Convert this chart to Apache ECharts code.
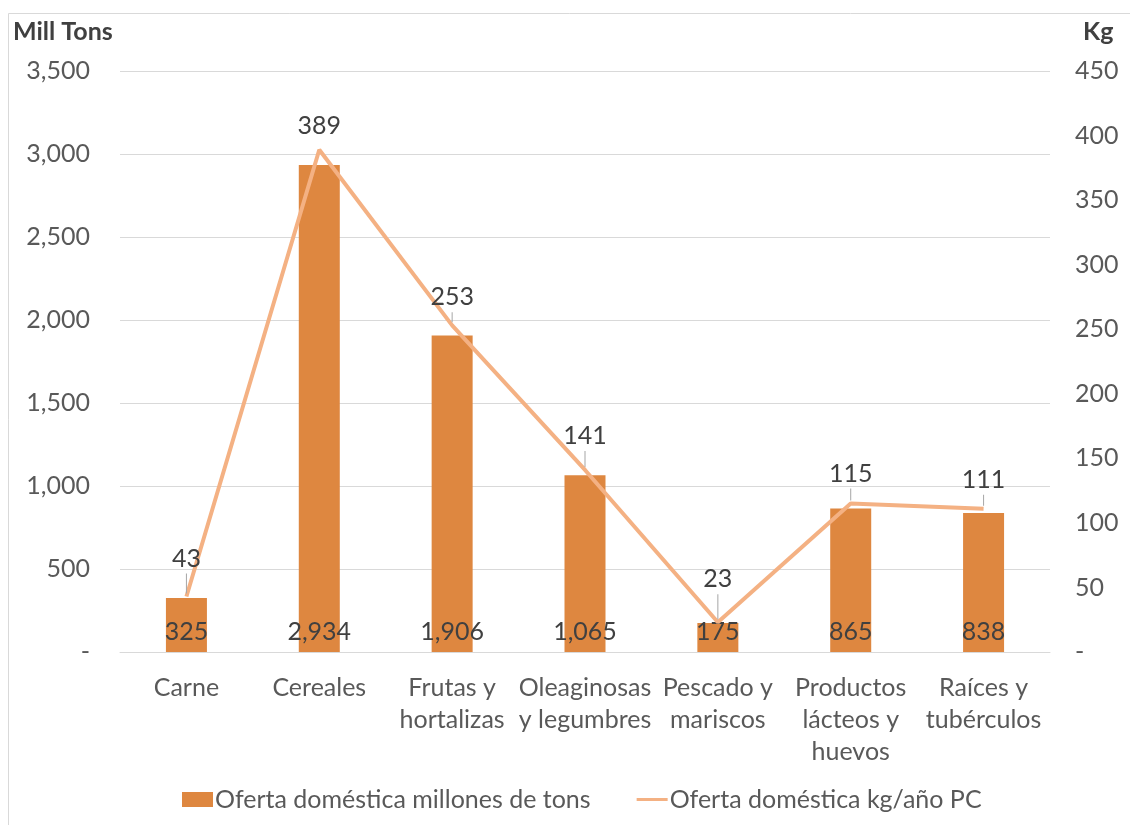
<!DOCTYPE html>
<html>
<head>
<meta charset="utf-8">
<script src="https://cdn.jsdelivr.net/npm/echarts@6/dist/echarts.min.js"></script>
<style>
  html, body { margin: 0; padding: 0; background: #fff; }
  #chart { width: 1130px; height: 825px; }
</style>
</head>
<body>
<div id="chart"></div>
<script>
// Categories and values
const categories = ['Carne', 'Cereales', 'Frutas y\nhortalizas', 'Oleaginosas\ny legumbres', 'Pescado y\nmariscos', 'Productos\nlácteos y\nhuevos', 'Raíces y\ntubérculos'];
const supplyMillTons = [325, 2934, 1906, 1065, 175, 865, 838];
const supplyKgPerCapita = [43, 389, 253, 141, 23, 115, 111];
const seriesNames = ['Oferta doméstica millones de tons', 'Oferta doméstica kg/año PC'];

// Leader-line length (px) under each per-capita label; 0 = no leader line
const kgLeader = [20, 0, 10, 16, 25, 12, 11];

const FONT = 'Lato, "Open Sans", sans-serif';
const TEXT = '#595959';
const FS = 25;
const fmt = v => v === 0 ? '-' : v.toLocaleString('en-US');

const chart = echarts.init(document.getElementById('chart'));
chart.setOption({
  backgroundColor: '#fff',
  animation: false,
  textStyle: { fontFamily: FONT },
  graphic: [
    { type: 'rect', shape: { x: 8.5, y: 13.5, width: 1140, height: 840 }, style: { fill: 'none', stroke: '#d9d9d9', lineWidth: 1 }, silent: true },
    { type: 'text', left: 13, top: 19, style: { text: 'Mill Tons', font: 'bold 25px ' + FONT, fill: '#404040' } },
    { type: 'text', left: 1083, top: 19, style: { text: 'Kg', font: 'bold 25px ' + FONT, fill: '#404040' } }
  ],
  grid: { left: 120, right: 80, top: 71, bottom: 173 },
  legend: {
    bottom: 8,
    left: 177,
    itemGap: 46,
    itemWidth: 31,
    itemHeight: 15,
    textStyle: { fontSize: FS, color: TEXT, fontFamily: FONT, padding: [0, 0, 0, -3] },
    data: [
      { name: seriesNames[0], icon: 'rect' },
      { name: seriesNames[1], icon: 'path://M0,0H31V3H0Z' }
    ]
  },
  xAxis: {
    type: 'category',
    data: categories,
    axisLine: { lineStyle: { color: '#d9d9d9' } },
    axisTick: { show: false },
    axisLabel: { color: TEXT, fontSize: FS, lineHeight: 32, margin: 20, interval: 0 }
  },
  yAxis: [
    {
      type: 'value', min: 0, max: 3500, interval: 500,
      axisLine: { show: false }, axisTick: { show: false },
      splitLine: { lineStyle: { color: '#d9d9d9' } },
      axisLabel: { color: TEXT, fontSize: FS, margin: 30, formatter: fmt }
    },
    {
      type: 'value', min: 0, max: 450, interval: 50,
      axisLine: { show: false }, axisTick: { show: false },
      splitLine: { show: false },
      axisLabel: { color: TEXT, fontSize: FS, margin: 25, formatter: fmt }
    }
  ],
  series: [
    {
      name: seriesNames[0],
      type: 'bar',
      data: supplyMillTons,
      barWidth: 41,
      itemStyle: { color: '#DE8740' },
      label: {
        show: true, position: 'insideBottom', distance: 8,
        color: '#404040', fontSize: FS, formatter: p => fmt(p.value)
      }
    },
    {
      name: seriesNames[1],
      type: 'line',
      yAxisIndex: 1,
      data: supplyKgPerCapita,
      symbol: 'circle',
      symbolSize: 0,
      lineStyle: { color: '#F4B183', width: 4 },
      itemStyle: { color: '#F4B183' },
      label: {
        show: true, position: 'top', distance: 3,
        formatter: p => {
          const h = kgLeader[p.dataIndex];
          const tick = h > 0 ? '\n{t' + h + '| }' : '\n{g| }';
          return '{v|' + fmt(p.value) + '}' + tick;
        },
        rich: Object.assign(
          {
            v: { color: '#404040', fontSize: FS, lineHeight: 30, fontFamily: FONT },
            g: { fontSize: 1, height: 6, lineHeight: 6, width: 1 }
          },
          Object.fromEntries(kgLeader.filter(h => h > 0).map(h => [
            't' + h,
            { fontSize: 1, width: 1, height: h, lineHeight: h, backgroundColor: '#a6a6a6' }
          ]))
        )
      }
    }
  ]
});
</script>
</body>
</html>
